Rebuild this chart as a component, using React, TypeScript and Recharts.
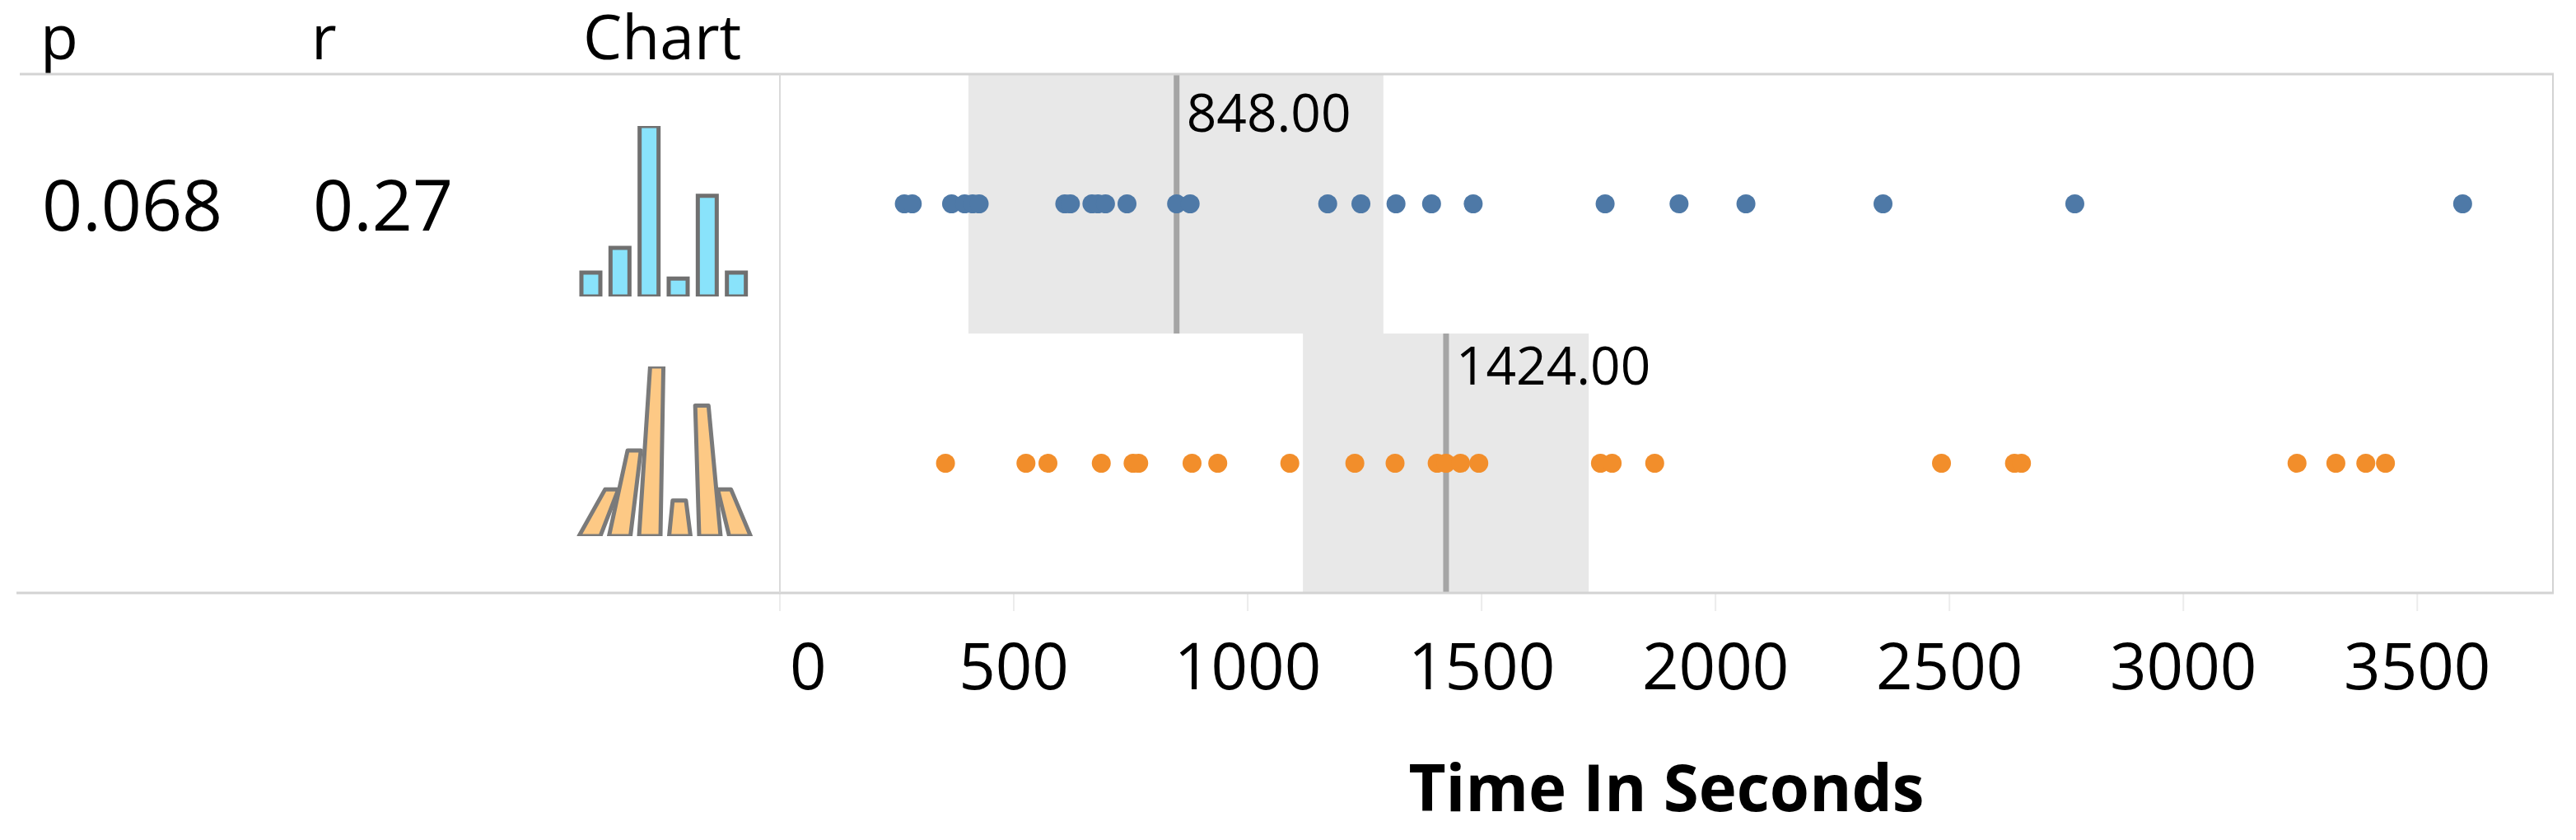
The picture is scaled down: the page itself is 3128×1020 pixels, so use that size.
import React from "react";
import {
  ScatterChart,
  Scatter,
  XAxis,
  YAxis,
  ReferenceArea,
  ReferenceLine,
  BarChart,
  Bar,
} from "recharts";

const FONT = "'Open Sans', 'Noto Sans', sans-serif";

// x axis
const timeTicks = [0, 500, 1000, 1500, 2000, 2500, 3000, 3500];
const timeDomain = [0, 3790];

// the two samples (seconds), 25 each
const blueTimes = [
  266, 283, 367, 395, 412, 426, 609, 621, 667, 680, 696, 742, 848, 877, 1171, 1242, 1317, 1393,
  1482, 1764, 1922, 2065, 2358, 2768, 3597,
];
const orangeTimes = [
  354, 526, 573, 687, 755, 767, 881, 936, 1090, 1229, 1315, 1405, 1424, 1455, 1494, 1754, 1779,
  1870, 2483, 2639, 2654, 3243, 3326, 3390, 3432,
];

const blueMedian = 848;
const orangeMedian = 1424;
const blueBand = [403, 1290];
const orangeBand = [1118, 1729];

// little histogram thumbnails in the "Chart" column
const blueHist = [2.8, 5.7, 20, 2.1, 11.8, 2.8];
const orangeHist = [5.5, 10.1, 20, 4.2, 15.4, 5.5];

const headers = ["p", "r", "Chart"];
const pValue = "0.068";
const rValue = "0.27";

const blueData = blueTimes.map((time) => ({ time, row: 1.5 }));
const orangeData = orangeTimes.map((time) => ({ time, row: 0.5 }));
const blueHistData = blueHist.map((count, i) => ({ bin: i, count }));
const orangeHistData = orangeHist.map((count, i) => ({ bin: i, count }));

function TimeTick(props: any) {
  const { x, y, payload, index } = props;
  const first = index === 0;
  return (
    <text
      x={first ? x + 12 : x}
      y={y}
      dy="0.71em"
      textAnchor={first ? "start" : "middle"}
      fontSize={78}
      fontFamily={FONT}
      fill="#000"
    >
      {payload.value}
    </text>
  );
}

function AxisTitle(props: any) {
  const vb = props.viewBox || {};
  return (
    <text
      x={vb.x + vb.width / 2}
      y={vb.y + 265}
      textAnchor="middle"
      fontSize={78}
      fontWeight={700}
      fontFamily={FONT}
      fill="#000"
    >
      Time In Seconds
    </text>
  );
}

function MedianLabel(props: any) {
  const vb = props.viewBox || {};
  return (
    <text x={vb.x + 12} y={vb.y + props.drop} fontSize={64} fontFamily={FONT} fill="#000">
      {props.text}
    </text>
  );
}

const dot = (color: string) => (props: any) =>
  <circle cx={props.cx} cy={props.cy} r={11.5} fill={color} />;

function LeanBar(props: any) {
  const { x, y, width, height, fill, stroke } = props;
  if (!height) return null;
  const center = 125;
  const cx = x + width / 2;
  const topCx = cx + (center - cx) * 0.25;
  const topW = width * 0.62;
  const pts = [
    [x, y + height],
    [x + width, y + height],
    [topCx + topW / 2, y],
    [topCx - topW / 2, y],
  ]
    .map((p) => p.join(","))
    .join(" ");
  return <polygon points={pts} fill={fill} stroke={stroke} strokeWidth={5} strokeLinejoin="round" />;
}

export default function App() {
  return (
    <div style={{ position: "absolute", left: 0, top: 0, width: 3128, height: 1020, background: "#fff" }}>
      <div style={{ position: "absolute", left: 0, top: 0 }}>
        <ScatterChart
          width={3128}
          height={1020}
          margin={{ top: 90, right: 28, bottom: 20, left: 947 }}
        >
          <XAxis
            type="number"
            dataKey="time"
            domain={timeDomain}
            ticks={timeTicks}
            interval={0}
            allowDataOverflow
            height={280}
            axisLine={false}
            tickLine={{ stroke: "#ececec", strokeWidth: 2 }}
            tickSize={22}
            tickMargin={40}
            tick={<TimeTick />}
            label={<AxisTitle />}
          />
          <YAxis type="number" dataKey="row" domain={[0, 2]} hide />
          <ReferenceArea
            x1={blueBand[0]}
            x2={blueBand[1]}
            y1={1}
            y2={2}
            fill="#e8e8e8"
            fillOpacity={1}
            stroke="none"
          />
          <ReferenceArea
            x1={orangeBand[0]}
            x2={orangeBand[1]}
            y1={0}
            y2={1}
            fill="#e8e8e8"
            fillOpacity={1}
            stroke="none"
          />
          <Scatter data={blueData} fill="#4e79a7" shape={dot("#4e79a7")} isAnimationActive={false} />
          <Scatter data={orangeData} fill="#f28e2b" shape={dot("#f28e2b")} isAnimationActive={false} />
          <ReferenceLine
            segment={[
              { x: blueMedian, y: 1 },
              { x: blueMedian, y: 2 },
            ]}
            stroke="#555"
            strokeOpacity={0.45}
            strokeWidth={7}
            label={<MedianLabel text={blueMedian.toFixed(2)} drop={70} />}
          />
          <ReferenceLine
            segment={[
              { x: orangeMedian, y: 0 },
              { x: orangeMedian, y: 1 },
            ]}
            stroke="#555"
            strokeOpacity={0.45}
            strokeWidth={7}
            label={<MedianLabel text={orangeMedian.toFixed(2)} drop={62} />}
          />
        </ScatterChart>
      </div>

      <div style={{ position: "absolute", left: 700, top: 153 }}>
        <BarChart width={212} height={207} data={blueHistData} margin={{ top: 0, right: 0, bottom: 0, left: 0 }}>
          <XAxis dataKey="bin" hide />
          <YAxis domain={[0, "dataMax"]} hide />
          <Bar dataKey="count" barSize={23} fill="#89e3fb" stroke="#707070" strokeWidth={5} isAnimationActive={false} />
        </BarChart>
      </div>

      <div style={{ position: "absolute", left: 698, top: 445 }}>
        <BarChart width={219} height={206} data={orangeHistData} margin={{ top: 0, right: 0, bottom: 0, left: 0 }}>
          <XAxis dataKey="bin" hide />
          <YAxis domain={[0, "dataMax"]} hide />
          <Bar
            dataKey="count"
            barSize={26}
            fill="#fdc985"
            stroke="#7a7a7a"
            shape={<LeanBar />}
            isAnimationActive={false}
          />
        </BarChart>
      </div>

      <svg
        width={3128}
        height={1020}
        style={{ position: "absolute", left: 0, top: 0, pointerEvents: "none" }}
      >
        <text x={49} y={72} fontSize={75} fontFamily={FONT} fill="#000">
          {headers[0]}
        </text>
        <text x={378} y={72} fontSize={75} fontFamily={FONT} fill="#000">
          {headers[1]}
        </text>
        <text x={708} y={72} fontSize={75} fontFamily={FONT} fill="#000">
          {headers[2]}
        </text>
        <text x={51} y={280} fontSize={86} fontFamily={FONT} fill="#000">
          {pValue}
        </text>
        <text x={380} y={280} fontSize={86} fontFamily={FONT} fill="#000">
          {rValue}
        </text>
        <line x1={24} y1={90} x2={3101} y2={90} stroke="#d3d3d3" strokeWidth={3} />
        <line x1={20} y1={720} x2={3101} y2={720} stroke="#d3d3d3" strokeWidth={3} />
        <line x1={947} y1={90} x2={947} y2={720} stroke="#dadada" strokeWidth={2} />
        <line x1={3100} y1={90} x2={3100} y2={720} stroke="#d3d3d3" strokeWidth={2} />
      </svg>
    </div>
  );
}
